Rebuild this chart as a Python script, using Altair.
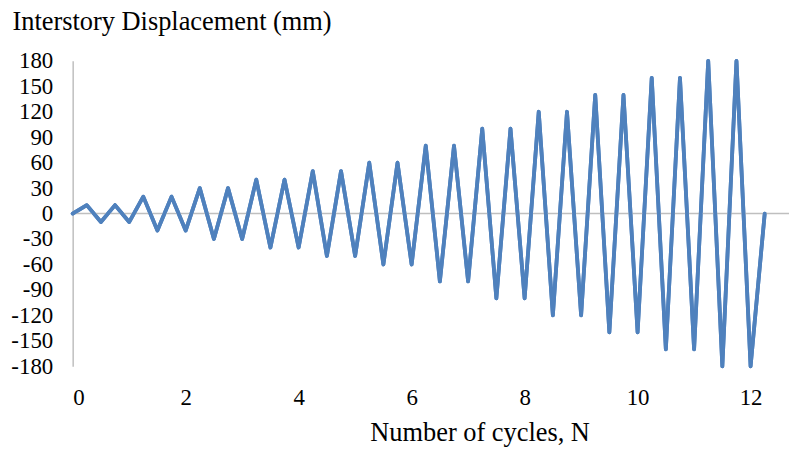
import altair as alt
import pandas as pd

cycles = [0, 0.25, 0.5, 0.75, 1.0, 1.25, 1.5, 1.75, 2.0, 2.25, 2.5, 2.75, 3.0,
          3.25, 3.5, 3.75, 4.0, 4.25, 4.5, 4.75, 5.0, 5.25, 5.5, 5.75, 6.0,
          6.25, 6.5, 6.75, 7.0, 7.25, 7.5, 7.75, 8.0, 8.25, 8.5, 8.75, 9.0,
          9.25, 9.5, 9.75, 10.0, 10.25, 10.5, 10.75, 11.0, 11.25, 11.5, 11.75, 12.0,
          12.25]
displacement = [0, 10, -10, 10, -10, 20, -20, 20, -20, 30, -30, 30, -30,
                40, -40, 40, -40, 50, -50, 50, -50, 60, -60, 60, -60,
                80, -80, 80, -80, 100, -100, 100, -100, 120, -120, 120, -120,
                140, -140, 140, -140, 160, -160, 160, -160, 180, -180, 180, -180,
                0]
x_ticks = [0, 2, 4, 6, 8, 10, 12]
y_ticks = [180, 150, 120, 90, 60, 30, 0, -30, -60, -90, -120, -150, -180]

df = pd.DataFrame({"N": cycles, "D": displacement})
zero_df = pd.DataFrame({"a": [0], "b": [12.68], "y": [0]})

FONT = "Liberation Serif"
W, H = 720, 307

xscale = alt.Scale(domain=[0, 12.68], nice=False, zero=False)
yscale = alt.Scale(domain=[-180, 180], nice=False)

line = alt.Chart(df).mark_line(
    color="#4F81BD", strokeWidth=3.8, strokeJoin="round", strokeCap="round"
).encode(
    x=alt.X("N:Q", scale=xscale,
            axis=alt.Axis(values=x_ticks, tickCount=20, title="Number of cycles, N", grid=False,
                          domain=False, ticks=False, tickSize=0, labelPadding=38,
                          labelBaseline="alphabetic", labelOverlap=False,
                          labelExpr="'' + datum.value",
                          labelFont=FONT, labelFontSize=23, labelColor="#000000",
                          titleFont=FONT, titleFontSize=26.5, titleFontWeight="normal",
                          titleColor="#000000", titleX=409, titleY=75,
                          titleBaseline="alphabetic", titleAlign="center")),
    y=alt.Y("D:Q", scale=yscale,
            axis=alt.Axis(values=y_ticks, tickCount=30, title="Interstory Displacement (mm)", grid=False,
                          domain=True, domainColor="#BFBFBF", domainWidth=1.5,
                          ticks=False, tickSize=0, labelPadding=20,
                          labelOverlap=False,
                          labelExpr="'' + datum.value",
                          labelFont=FONT, labelFontSize=23, labelColor="#000000",
                          titleFont=FONT, titleFontSize=26.5, titleFontWeight="normal",
                          titleColor="#000000", titleAngle=0, titleX=-61, titleY=-32,
                          titleAlign="left", titleBaseline="alphabetic")),
)

zero = alt.Chart(zero_df).mark_rule(color="#BFBFBF", strokeWidth=1.5).encode(
    x=alt.X("a:Q", scale=xscale),
    x2="b:Q",
    y=alt.Y("y:Q", scale=yscale),
)

chart = alt.layer(line, zero, line).properties(
    width=W, height=H,
    autosize=alt.AutoSizeParams(type="none"),
    padding={"left": 65, "top": 52, "right": 0, "bottom": 82},
).configure_view(stroke=None).configure_axis(labelOverlap=False)

chart.save("out.html", embed_options={"renderer": "svg", "actions": False})
